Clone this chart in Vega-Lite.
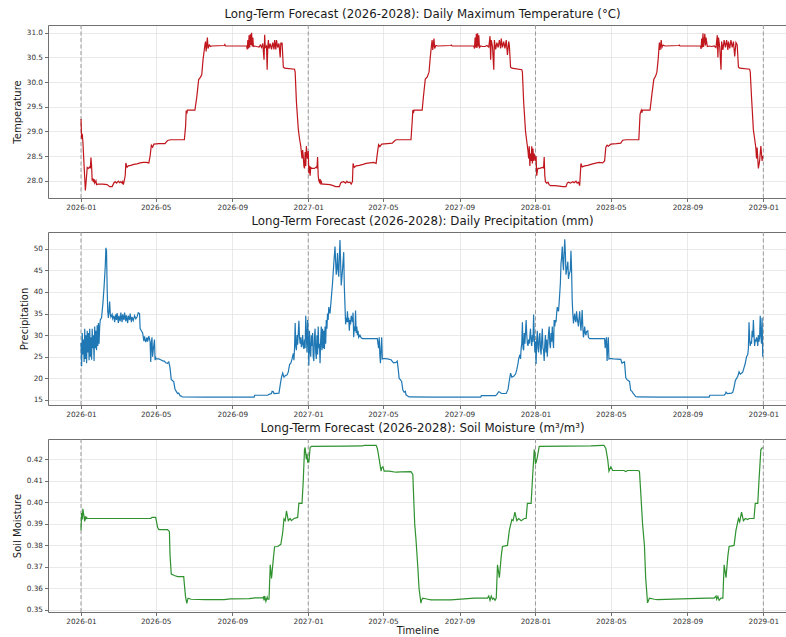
{
"$schema": "https://vega.github.io/schema/vega-lite/v6.json",
"background": "white",
"padding": {"left": 12, "top": 8, "right": 0, "bottom": 0},
"spacing": 34,
"bounds": "flush",
"config": {
  "font": "DejaVu Sans",
  "view": {"stroke": null},
  "axis": {"labelFont": "DejaVu Sans", "labelFontSize": 7.3, "labelColor": "#333333", "titleFont": "DejaVu Sans", "titleFontSize": 10, "titleFontWeight": "normal", "titleColor": "#1a1a1a", "domainColor": "#707070", "tickColor": "#707070", "tickSize": 3.5, "gridColor": "#e3e3e3", "gridWidth": 0.8, "labelPadding": 2, "titlePadding": 4},
  "title": {"font": "DejaVu Sans", "fontSize": 11.8, "fontWeight": "normal", "color": "#1a1a1a", "offset": 4, "anchor": "middle", "dx": 5}
},
"datasets": {
"years": [{"date": "2026-01-01"}, {"date": "2027-01-01"}, {"date": "2028-01-01"}, {"date": "2029-01-01"}],
"temp": [
{"date":"2026-01-01","value":29.25},{"date":"2026-01-02","value":28.85},{"date":"2026-01-03","value":28.95},{"date":"2026-01-04","value":28.8},{"date":"2026-01-06","value":28.3},{"date":"2026-01-08","value":27.8},{"date":"2026-01-10","value":28.1},{"date":"2026-01-11","value":28.27},{"date":"2026-01-13","value":28.25},{"date":"2026-01-15","value":28.28},{"date":"2026-01-16","value":28.25},{"date":"2026-01-17","value":28.47},{"date":"2026-01-18","value":28.3},{"date":"2026-01-19","value":28.0},{"date":"2026-01-20","value":28.05},{"date":"2026-01-21","value":27.97},{"date":"2026-01-22","value":28.03},{"date":"2026-01-23","value":27.95},{"date":"2026-01-25","value":28.0},{"date":"2026-01-26","value":27.92},{"date":"2026-01-28","value":27.93},{"date":"2026-02-05","value":27.93},{"date":"2026-02-12","value":27.92},{"date":"2026-02-16","value":27.88},{"date":"2026-02-20","value":27.88},{"date":"2026-02-23","value":27.96},{"date":"2026-02-25","value":27.98},{"date":"2026-02-27","value":27.95},{"date":"2026-03-02","value":27.99},{"date":"2026-03-04","value":27.96},{"date":"2026-03-06","value":27.98},{"date":"2026-03-08","value":27.95},{"date":"2026-03-09","value":27.98},{"date":"2026-03-10","value":27.92},{"date":"2026-03-11","value":27.97},{"date":"2026-03-13","value":28.1},{"date":"2026-03-14","value":28.36},{"date":"2026-03-16","value":28.27},{"date":"2026-03-18","value":28.3},{"date":"2026-03-22","value":28.31},{"date":"2026-03-27","value":28.33},{"date":"2026-04-01","value":28.34},{"date":"2026-04-06","value":28.36},{"date":"2026-04-11","value":28.37},{"date":"2026-04-16","value":28.37},{"date":"2026-04-20","value":28.36},{"date":"2026-04-22","value":28.5},{"date":"2026-04-24","value":28.72},{"date":"2026-04-26","value":28.68},{"date":"2026-04-28","value":28.74},{"date":"2026-05-06","value":28.75},{"date":"2026-05-16","value":28.75},{"date":"2026-05-19","value":28.8},{"date":"2026-05-21","value":28.82},{"date":"2026-05-26","value":28.83},{"date":"2026-06-16","value":28.83},{"date":"2026-06-18","value":29.1},{"date":"2026-06-19","value":29.42},{"date":"2026-06-20","value":29.36},{"date":"2026-06-21","value":29.43},{"date":"2026-07-03","value":29.43},{"date":"2026-07-06","value":29.7},{"date":"2026-07-09","value":30.05},{"date":"2026-07-12","value":30.1},{"date":"2026-07-14","value":30.15},{"date":"2026-07-16","value":30.45},{"date":"2026-07-19","value":30.75},{"date":"2026-07-20","value":30.82},{"date":"2026-07-21","value":30.62},{"date":"2026-07-23","value":30.9},{"date":"2026-07-24","value":30.68},{"date":"2026-07-26","value":30.75},{"date":"2026-07-28","value":30.72},{"date":"2026-07-30","value":30.73},{"date":"2026-08-19","value":30.74},{"date":"2026-08-20","value":30.76},{"date":"2026-08-21","value":30.73},{"date":"2026-09-24","value":30.73},{"date":"2026-09-25","value":30.66},{"date":"2026-09-26","value":30.85},{"date":"2026-09-27","value":30.68},{"date":"2026-09-28","value":30.95},{"date":"2026-09-29","value":30.7},{"date":"2026-09-30","value":30.97},{"date":"2026-10-01","value":30.75},{"date":"2026-10-02","value":31.0},{"date":"2026-10-03","value":30.72},{"date":"2026-10-04","value":30.9},{"date":"2026-10-05","value":30.72},{"date":"2026-10-07","value":30.73},{"date":"2026-10-10","value":30.72},{"date":"2026-10-14","value":30.71},{"date":"2026-10-16","value":30.75},{"date":"2026-10-18","value":30.7},{"date":"2026-10-20","value":30.78},{"date":"2026-10-22","value":30.45},{"date":"2026-10-23","value":30.96},{"date":"2026-10-24","value":30.7},{"date":"2026-10-26","value":30.73},{"date":"2026-10-27","value":30.25},{"date":"2026-10-28","value":30.7},{"date":"2026-10-29","value":30.85},{"date":"2026-10-30","value":30.68},{"date":"2026-11-01","value":30.78},{"date":"2026-11-03","value":30.66},{"date":"2026-11-05","value":30.8},{"date":"2026-11-07","value":30.66},{"date":"2026-11-08","value":30.85},{"date":"2026-11-10","value":30.66},{"date":"2026-11-11","value":30.85},{"date":"2026-11-13","value":30.7},{"date":"2026-11-15","value":30.78},{"date":"2026-11-17","value":30.5},{"date":"2026-11-18","value":30.8},{"date":"2026-11-19","value":30.75},{"date":"2026-11-20","value":30.8},{"date":"2026-11-22","value":30.3},{"date":"2026-11-24","value":30.28},{"date":"2026-12-10","value":30.26},{"date":"2026-12-11","value":30.2},{"date":"2026-12-13","value":29.6},{"date":"2026-12-16","value":29.05},{"date":"2026-12-18","value":28.85},{"date":"2026-12-20","value":28.7},{"date":"2026-12-22","value":28.45},{"date":"2026-12-23","value":28.62},{"date":"2026-12-24","value":28.5},{"date":"2026-12-25","value":28.3},{"date":"2026-12-26","value":28.25},{"date":"2026-12-27","value":28.58},{"date":"2026-12-28","value":28.3},{"date":"2026-12-29","value":28.7},{"date":"2026-12-30","value":28.5},{"date":"2026-12-31","value":28.45},
{"date":"2027-01-01","value":28.6},{"date":"2027-01-02","value":28.15},{"date":"2027-01-03","value":28.3},{"date":"2027-01-04","value":28.1},{"date":"2027-01-05","value":28.27},{"date":"2027-01-07","value":28.25},{"date":"2027-01-11","value":28.25},{"date":"2027-01-14","value":28.28},{"date":"2027-01-15","value":28.25},{"date":"2027-01-16","value":28.48},{"date":"2027-01-17","value":28.1},{"date":"2027-01-18","value":28.0},{"date":"2027-01-19","value":27.97},{"date":"2027-01-20","value":28.03},{"date":"2027-01-21","value":27.95},{"date":"2027-01-22","value":27.98},{"date":"2027-01-23","value":27.93},{"date":"2027-01-26","value":27.93},{"date":"2027-02-05","value":27.92},{"date":"2027-02-10","value":27.9},{"date":"2027-02-14","value":27.88},{"date":"2027-02-20","value":27.88},{"date":"2027-02-22","value":27.95},{"date":"2027-02-24","value":27.97},{"date":"2027-02-27","value":27.98},{"date":"2027-03-02","value":27.95},{"date":"2027-03-04","value":27.99},{"date":"2027-03-06","value":27.96},{"date":"2027-03-09","value":27.97},{"date":"2027-03-11","value":27.93},{"date":"2027-03-13","value":27.98},{"date":"2027-03-14","value":28.35},{"date":"2027-03-16","value":28.27},{"date":"2027-03-19","value":28.3},{"date":"2027-03-24","value":28.31},{"date":"2027-03-30","value":28.33},{"date":"2027-04-04","value":28.35},{"date":"2027-04-10","value":28.36},{"date":"2027-04-16","value":28.37},{"date":"2027-04-20","value":28.35},{"date":"2027-04-22","value":28.55},{"date":"2027-04-24","value":28.73},{"date":"2027-04-26","value":28.69},{"date":"2027-04-29","value":28.74},{"date":"2027-05-08","value":28.75},{"date":"2027-05-16","value":28.76},{"date":"2027-05-19","value":28.8},{"date":"2027-05-22","value":28.83},{"date":"2027-06-15","value":28.83},{"date":"2027-06-17","value":29.2},{"date":"2027-06-18","value":29.43},{"date":"2027-06-19","value":29.37},{"date":"2027-06-20","value":29.43},{"date":"2027-07-03","value":29.43},{"date":"2027-07-05","value":29.7},{"date":"2027-07-08","value":30.06},{"date":"2027-07-11","value":30.1},{"date":"2027-07-14","value":30.2},{"date":"2027-07-16","value":30.5},{"date":"2027-07-18","value":30.75},{"date":"2027-07-19","value":30.85},{"date":"2027-07-20","value":30.65},{"date":"2027-07-22","value":30.88},{"date":"2027-07-23","value":30.68},{"date":"2027-07-25","value":30.74},{"date":"2027-07-28","value":30.73},{"date":"2027-08-18","value":30.74},{"date":"2027-08-19","value":30.75},{"date":"2027-08-20","value":30.73},{"date":"2027-09-24","value":30.73},{"date":"2027-09-25","value":30.68},{"date":"2027-09-26","value":30.9},{"date":"2027-09-27","value":30.7},{"date":"2027-09-28","value":30.98},{"date":"2027-09-29","value":30.69},{"date":"2027-09-30","value":30.99},{"date":"2027-10-01","value":30.72},{"date":"2027-10-02","value":30.95},{"date":"2027-10-03","value":30.7},{"date":"2027-10-05","value":30.73},{"date":"2027-10-08","value":30.72},{"date":"2027-10-12","value":30.72},{"date":"2027-10-15","value":30.74},{"date":"2027-10-18","value":30.71},{"date":"2027-10-20","value":30.93},{"date":"2027-10-21","value":30.45},{"date":"2027-10-22","value":30.85},{"date":"2027-10-24","value":30.72},{"date":"2027-10-26","value":30.25},{"date":"2027-10-27","value":30.85},{"date":"2027-10-29","value":30.66},{"date":"2027-10-31","value":30.8},{"date":"2027-11-02","value":30.7},{"date":"2027-11-04","value":30.85},{"date":"2027-11-06","value":30.68},{"date":"2027-11-07","value":30.88},{"date":"2027-11-09","value":30.7},{"date":"2027-11-11","value":30.82},{"date":"2027-11-13","value":30.68},{"date":"2027-11-15","value":30.85},{"date":"2027-11-17","value":30.55},{"date":"2027-11-19","value":30.82},{"date":"2027-11-20","value":30.75},{"date":"2027-11-22","value":30.3},{"date":"2027-11-24","value":30.28},{"date":"2027-12-10","value":30.25},{"date":"2027-12-11","value":30.2},{"date":"2027-12-13","value":29.6},{"date":"2027-12-16","value":29.0},{"date":"2027-12-18","value":28.8},{"date":"2027-12-20","value":28.6},{"date":"2027-12-21","value":28.45},{"date":"2027-12-22","value":28.7},{"date":"2027-12-23","value":28.3},{"date":"2027-12-24","value":28.55},{"date":"2027-12-25","value":28.4},{"date":"2027-12-26","value":28.7},{"date":"2027-12-27","value":28.35},{"date":"2027-12-28","value":28.65},{"date":"2027-12-29","value":28.4},{"date":"2027-12-30","value":28.55},{"date":"2027-12-31","value":28.45},
{"date":"2028-01-01","value":28.4},{"date":"2028-01-02","value":28.5},{"date":"2028-01-03","value":28.1},{"date":"2028-01-04","value":28.2},{"date":"2028-01-05","value":28.25},{"date":"2028-01-08","value":28.25},{"date":"2028-01-12","value":28.27},{"date":"2028-01-14","value":28.26},{"date":"2028-01-15","value":28.48},{"date":"2028-01-16","value":28.1},{"date":"2028-01-17","value":27.98},{"date":"2028-01-19","value":27.95},{"date":"2028-01-21","value":27.97},{"date":"2028-01-23","value":27.92},{"date":"2028-01-25","value":27.9},{"date":"2028-02-01","value":27.9},{"date":"2028-02-08","value":27.89},{"date":"2028-02-14","value":27.88},{"date":"2028-02-19","value":27.88},{"date":"2028-02-21","value":27.95},{"date":"2028-02-23","value":27.97},{"date":"2028-02-26","value":27.95},{"date":"2028-03-01","value":27.98},{"date":"2028-03-03","value":27.96},{"date":"2028-03-06","value":27.99},{"date":"2028-03-08","value":27.95},{"date":"2028-03-10","value":27.97},{"date":"2028-03-12","value":27.9},{"date":"2028-03-14","value":28.35},{"date":"2028-03-16","value":28.28},{"date":"2028-03-20","value":28.3},{"date":"2028-03-25","value":28.31},{"date":"2028-03-30","value":28.33},{"date":"2028-04-05","value":28.35},{"date":"2028-04-12","value":28.37},{"date":"2028-04-18","value":28.36},{"date":"2028-04-21","value":28.4},{"date":"2028-04-23","value":28.68},{"date":"2028-04-25","value":28.72},{"date":"2028-04-27","value":28.7},{"date":"2028-05-01","value":28.74},{"date":"2028-05-10","value":28.75},{"date":"2028-05-17","value":28.76},{"date":"2028-05-20","value":28.82},{"date":"2028-05-25","value":28.83},{"date":"2028-06-15","value":28.83},{"date":"2028-06-17","value":29.35},{"date":"2028-06-19","value":29.43},{"date":"2028-06-20","value":29.38},{"date":"2028-06-21","value":29.43},{"date":"2028-07-03","value":29.43},{"date":"2028-07-06","value":29.75},{"date":"2028-07-09","value":30.05},{"date":"2028-07-12","value":30.12},{"date":"2028-07-14","value":30.2},{"date":"2028-07-16","value":30.45},{"date":"2028-07-18","value":30.8},{"date":"2028-07-19","value":30.65},{"date":"2028-07-21","value":30.85},{"date":"2028-07-22","value":30.7},{"date":"2028-07-24","value":30.75},{"date":"2028-07-27","value":30.73},{"date":"2028-08-18","value":30.74},{"date":"2028-08-19","value":30.75},{"date":"2028-08-20","value":30.73},{"date":"2028-09-22","value":30.73},{"date":"2028-09-23","value":30.67},{"date":"2028-09-24","value":30.88},{"date":"2028-09-25","value":30.7},{"date":"2028-09-26","value":30.99},{"date":"2028-09-27","value":30.71},{"date":"2028-09-29","value":30.98},{"date":"2028-09-30","value":30.74},{"date":"2028-10-01","value":30.9},{"date":"2028-10-03","value":30.72},{"date":"2028-10-06","value":30.73},{"date":"2028-10-10","value":30.72},{"date":"2028-10-14","value":30.73},{"date":"2028-10-17","value":30.7},{"date":"2028-10-19","value":30.95},{"date":"2028-10-20","value":30.5},{"date":"2028-10-21","value":30.9},{"date":"2028-10-23","value":30.7},{"date":"2028-10-25","value":30.25},{"date":"2028-10-26","value":30.82},{"date":"2028-10-28","value":30.65},{"date":"2028-10-30","value":30.85},{"date":"2028-11-01","value":30.7},{"date":"2028-11-03","value":30.85},{"date":"2028-11-05","value":30.65},{"date":"2028-11-06","value":30.82},{"date":"2028-11-08","value":30.68},{"date":"2028-11-10","value":30.85},{"date":"2028-11-12","value":30.7},{"date":"2028-11-14","value":30.82},{"date":"2028-11-16","value":30.52},{"date":"2028-11-18","value":30.8},{"date":"2028-11-20","value":30.75},{"date":"2028-11-22","value":30.3},{"date":"2028-11-24","value":30.28},{"date":"2028-12-10","value":30.26},{"date":"2028-12-11","value":30.2},{"date":"2028-12-13","value":29.7},{"date":"2028-12-16","value":29.03},{"date":"2028-12-18","value":28.85},{"date":"2028-12-20","value":28.66},{"date":"2028-12-21","value":28.45},{"date":"2028-12-22","value":28.67},{"date":"2028-12-24","value":28.25},{"date":"2028-12-26","value":28.4},{"date":"2028-12-28","value":28.7},{"date":"2028-12-30","value":28.4},{"date":"2028-12-31","value":28.5}
],
"precip": [
{"date":"2026-01-01","value":28.2},{"date":"2026-01-02","value":22.8},{"date":"2026-01-03","value":30.5},{"date":"2026-01-04","value":25.5},{"date":"2026-01-05","value":29},{"date":"2026-01-06","value":23.8},{"date":"2026-01-07","value":31.5},{"date":"2026-01-08","value":24.5},{"date":"2026-01-09","value":30},{"date":"2026-01-10","value":23.5},{"date":"2026-01-11","value":31},{"date":"2026-01-12","value":26},{"date":"2026-01-13","value":30.5},{"date":"2026-01-14","value":24.2},{"date":"2026-01-15","value":31.5},{"date":"2026-01-16","value":25},{"date":"2026-01-17","value":29.5},{"date":"2026-01-18","value":24.3},{"date":"2026-01-19","value":31.5},{"date":"2026-01-20","value":27},{"date":"2026-01-21","value":30},{"date":"2026-01-22","value":24},{"date":"2026-01-23","value":32},{"date":"2026-01-24","value":27},{"date":"2026-01-25","value":31},{"date":"2026-01-26","value":26.5},{"date":"2026-01-27","value":32.3},{"date":"2026-01-28","value":27.5},{"date":"2026-01-29","value":32.8},{"date":"2026-01-30","value":28},{"date":"2026-01-31","value":32},{"date":"2026-02-01","value":33.5},{"date":"2026-02-03","value":34},{"date":"2026-02-05","value":37},{"date":"2026-02-07","value":41},{"date":"2026-02-09","value":46},{"date":"2026-02-10","value":50.2},{"date":"2026-02-11","value":49.5},{"date":"2026-02-12","value":41},{"date":"2026-02-13","value":35.5},{"date":"2026-02-14","value":34},{"date":"2026-02-15","value":35.5},{"date":"2026-02-16","value":37.8},{"date":"2026-02-17","value":35},{"date":"2026-02-18","value":34.2},{"date":"2026-02-20","value":34.8},{"date":"2026-02-21","value":33.8},{"date":"2026-02-23","value":34.5},{"date":"2026-02-24","value":33},{"date":"2026-02-26","value":34.8},{"date":"2026-02-27","value":33.5},{"date":"2026-02-28","value":35.1},{"date":"2026-03-02","value":32.8},{"date":"2026-03-03","value":34.5},{"date":"2026-03-05","value":33.2},{"date":"2026-03-06","value":35.2},{"date":"2026-03-08","value":33},{"date":"2026-03-09","value":34.8},{"date":"2026-03-11","value":33.5},{"date":"2026-03-12","value":35.2},{"date":"2026-03-14","value":33.2},{"date":"2026-03-15","value":34.6},{"date":"2026-03-17","value":32.8},{"date":"2026-03-18","value":34.5},{"date":"2026-03-20","value":33.5},{"date":"2026-03-21","value":35},{"date":"2026-03-23","value":33},{"date":"2026-03-24","value":34.2},{"date":"2026-03-26","value":33.4},{"date":"2026-03-28","value":34.5},{"date":"2026-03-30","value":33.8},{"date":"2026-04-01","value":34.2},{"date":"2026-04-03","value":35.2},{"date":"2026-04-05","value":35},{"date":"2026-04-06","value":31.5},{"date":"2026-04-08","value":31},{"date":"2026-04-10","value":30.5},{"date":"2026-04-12","value":28.6},{"date":"2026-04-13","value":29.7},{"date":"2026-04-15","value":28.4},{"date":"2026-04-17","value":29.5},{"date":"2026-04-18","value":28.5},{"date":"2026-04-20","value":29.8},{"date":"2026-04-22","value":28.5},{"date":"2026-04-23","value":23.8},{"date":"2026-04-24","value":28},{"date":"2026-04-25","value":29.5},{"date":"2026-04-26","value":25},{"date":"2026-04-27","value":26.5},{"date":"2026-04-29","value":29},{"date":"2026-04-30","value":24.2},{"date":"2026-05-01","value":24.8},{"date":"2026-05-02","value":24.5},{"date":"2026-05-06","value":24.5},{"date":"2026-05-09","value":24.3},{"date":"2026-05-13","value":24},{"date":"2026-05-15","value":24},{"date":"2026-05-17","value":23.6},{"date":"2026-05-20","value":23.5},{"date":"2026-05-22","value":23.8},{"date":"2026-05-24","value":22.5},{"date":"2026-05-26","value":19.7},{"date":"2026-05-28","value":19.5},{"date":"2026-05-30","value":19.2},{"date":"2026-06-01","value":17.5},{"date":"2026-06-03","value":17},{"date":"2026-06-05","value":16.5},{"date":"2026-06-07","value":16.6},{"date":"2026-06-09","value":16},{"date":"2026-06-11","value":15.9},{"date":"2026-06-13","value":15.7},{"date":"2026-07-20","value":15.65},{"date":"2026-08-29","value":15.65},{"date":"2026-10-06","value":15.65},{"date":"2026-10-07","value":16.1},{"date":"2026-10-28","value":16.1},{"date":"2026-10-30","value":16.3},{"date":"2026-11-03","value":16.5},{"date":"2026-11-04","value":17},{"date":"2026-11-06","value":16.9},{"date":"2026-11-07","value":16.5},{"date":"2026-11-15","value":16.6},{"date":"2026-11-17","value":18.5},{"date":"2026-11-19","value":20.2},{"date":"2026-11-21","value":21.2},{"date":"2026-11-23","value":20.3},{"date":"2026-11-25","value":20.6},{"date":"2026-11-28","value":20.8},{"date":"2026-11-30","value":21.5},{"date":"2026-12-02","value":23.2},{"date":"2026-12-04","value":23.5},{"date":"2026-12-06","value":24.5},{"date":"2026-12-08","value":25.8},{"date":"2026-12-09","value":24.2},{"date":"2026-12-10","value":27},{"date":"2026-12-11","value":32.8},{"date":"2026-12-12","value":27.5},{"date":"2026-12-13","value":26.5},{"date":"2026-12-14","value":30},{"date":"2026-12-15","value":27.8},{"date":"2026-12-17","value":33.3},{"date":"2026-12-18","value":29.5},{"date":"2026-12-19","value":28},{"date":"2026-12-20","value":29.5},{"date":"2026-12-21","value":27.2},{"date":"2026-12-22","value":28},{"date":"2026-12-23","value":30},{"date":"2026-12-24","value":27.5},{"date":"2026-12-25","value":26.8},{"date":"2026-12-26","value":29},{"date":"2026-12-27","value":27},{"date":"2026-12-28","value":34.5},{"date":"2026-12-29","value":30},{"date":"2026-12-30","value":26},{"date":"2026-12-31","value":33.5},
{"date":"2027-01-01","value":29},{"date":"2027-01-02","value":23},{"date":"2027-01-03","value":31},{"date":"2027-01-04","value":26.5},{"date":"2027-01-05","value":25},{"date":"2027-01-06","value":30},{"date":"2027-01-07","value":27.5},{"date":"2027-01-08","value":30.5},{"date":"2027-01-09","value":25},{"date":"2027-01-10","value":24},{"date":"2027-01-11","value":29.5},{"date":"2027-01-12","value":31.5},{"date":"2027-01-13","value":26},{"date":"2027-01-14","value":24.5},{"date":"2027-01-15","value":30},{"date":"2027-01-16","value":25.5},{"date":"2027-01-17","value":32},{"date":"2027-01-18","value":27},{"date":"2027-01-19","value":28},{"date":"2027-01-20","value":23.5},{"date":"2027-01-21","value":29},{"date":"2027-01-22","value":32},{"date":"2027-01-23","value":26.5},{"date":"2027-01-24","value":31.5},{"date":"2027-01-25","value":27},{"date":"2027-01-26","value":31},{"date":"2027-01-27","value":26.8},{"date":"2027-01-28","value":32},{"date":"2027-01-29","value":28},{"date":"2027-01-30","value":33.5},{"date":"2027-01-31","value":31.5},{"date":"2027-02-01","value":35},{"date":"2027-02-02","value":33.5},{"date":"2027-02-03","value":36.5},{"date":"2027-02-05","value":35},{"date":"2027-02-07","value":38.5},{"date":"2027-02-09","value":42},{"date":"2027-02-11","value":46.5},{"date":"2027-02-13","value":50.5},{"date":"2027-02-14","value":47},{"date":"2027-02-15","value":44},{"date":"2027-02-16","value":45.5},{"date":"2027-02-17","value":49},{"date":"2027-02-18","value":45},{"date":"2027-02-19","value":43.5},{"date":"2027-02-20","value":48},{"date":"2027-02-21","value":52},{"date":"2027-02-22","value":47},{"date":"2027-02-23","value":41.5},{"date":"2027-02-25","value":45},{"date":"2027-02-27","value":49.2},{"date":"2027-02-28","value":41},{"date":"2027-03-01","value":37},{"date":"2027-03-02","value":32.5},{"date":"2027-03-03","value":34},{"date":"2027-03-04","value":33},{"date":"2027-03-05","value":35.5},{"date":"2027-03-06","value":33},{"date":"2027-03-07","value":34},{"date":"2027-03-08","value":31},{"date":"2027-03-09","value":33.5},{"date":"2027-03-10","value":32.5},{"date":"2027-03-11","value":34.5},{"date":"2027-03-13","value":33},{"date":"2027-03-14","value":35.2},{"date":"2027-03-15","value":29.5},{"date":"2027-03-16","value":32},{"date":"2027-03-17","value":31},{"date":"2027-03-18","value":35.7},{"date":"2027-03-19","value":30.5},{"date":"2027-03-20","value":32},{"date":"2027-03-21","value":30},{"date":"2027-03-22","value":31},{"date":"2027-03-23","value":29.5},{"date":"2027-03-25","value":30},{"date":"2027-03-27","value":29.4},{"date":"2027-03-29","value":29.2},{"date":"2027-04-22","value":29.2},{"date":"2027-04-23","value":28},{"date":"2027-04-24","value":27},{"date":"2027-04-25","value":29.5},{"date":"2027-04-26","value":25.5},{"date":"2027-04-27","value":23.5},{"date":"2027-04-28","value":27},{"date":"2027-04-29","value":29.5},{"date":"2027-04-30","value":24.5},{"date":"2027-05-01","value":24.6},{"date":"2027-05-08","value":24.5},{"date":"2027-05-14","value":24.3},{"date":"2027-05-18","value":23.6},{"date":"2027-05-22","value":23.7},{"date":"2027-05-24","value":24},{"date":"2027-05-26","value":21.5},{"date":"2027-05-27","value":20},{"date":"2027-05-29","value":19.7},{"date":"2027-05-31","value":19.3},{"date":"2027-06-02","value":17.3},{"date":"2027-06-04","value":16.8},{"date":"2027-06-06","value":17},{"date":"2027-06-07","value":16.2},{"date":"2027-06-09","value":16},{"date":"2027-06-12","value":15.7},{"date":"2027-07-20","value":15.65},{"date":"2027-10-05","value":15.65},{"date":"2027-10-06","value":16.0},{"date":"2027-10-29","value":16.0},{"date":"2027-10-31","value":16.3},{"date":"2027-11-03","value":16.9},{"date":"2027-11-05","value":16.8},{"date":"2027-11-07","value":16.5},{"date":"2027-11-15","value":16.5},{"date":"2027-11-18","value":17.5},{"date":"2027-11-20","value":19.5},{"date":"2027-11-22","value":21.2},{"date":"2027-11-24","value":20.3},{"date":"2027-11-27","value":20.5},{"date":"2027-11-30","value":21},{"date":"2027-12-02","value":22},{"date":"2027-12-04","value":23.5},{"date":"2027-12-05","value":24.5},{"date":"2027-12-07","value":25.5},{"date":"2027-12-08","value":24.5},{"date":"2027-12-09","value":27},{"date":"2027-12-10","value":28},{"date":"2027-12-11","value":33},{"date":"2027-12-12","value":27},{"date":"2027-12-13","value":26.5},{"date":"2027-12-14","value":30.5},{"date":"2027-12-15","value":28},{"date":"2027-12-17","value":33.5},{"date":"2027-12-18","value":30},{"date":"2027-12-19","value":28},{"date":"2027-12-20","value":27.5},{"date":"2027-12-21","value":29},{"date":"2027-12-22","value":28},{"date":"2027-12-24","value":31.5},{"date":"2027-12-25","value":28.5},{"date":"2027-12-26","value":27.5},{"date":"2027-12-27","value":30},{"date":"2027-12-28","value":28.5},{"date":"2027-12-29","value":34.8},{"date":"2027-12-30","value":30},{"date":"2027-12-31","value":26},
{"date":"2028-01-01","value":28.5},{"date":"2028-01-02","value":23.3},{"date":"2028-01-03","value":29},{"date":"2028-01-04","value":31},{"date":"2028-01-05","value":27},{"date":"2028-01-06","value":26},{"date":"2028-01-07","value":29.5},{"date":"2028-01-08","value":30.5},{"date":"2028-01-09","value":27},{"date":"2028-01-10","value":25.5},{"date":"2028-01-11","value":29},{"date":"2028-01-12","value":31.5},{"date":"2028-01-13","value":27},{"date":"2028-01-14","value":26.5},{"date":"2028-01-15","value":24},{"date":"2028-01-16","value":28},{"date":"2028-01-17","value":30},{"date":"2028-01-18","value":26},{"date":"2028-01-19","value":29},{"date":"2028-01-20","value":25},{"date":"2028-01-21","value":28},{"date":"2028-01-22","value":30.5},{"date":"2028-01-23","value":32},{"date":"2028-01-24","value":28},{"date":"2028-01-25","value":27},{"date":"2028-01-26","value":30.5},{"date":"2028-01-27","value":28.5},{"date":"2028-01-28","value":32},{"date":"2028-01-29","value":29},{"date":"2028-01-30","value":27},{"date":"2028-01-31","value":33.5},{"date":"2028-02-01","value":32},{"date":"2028-02-02","value":33.5},{"date":"2028-02-03","value":33},{"date":"2028-02-04","value":35},{"date":"2028-02-05","value":36.5},{"date":"2028-02-07","value":35.5},{"date":"2028-02-08","value":37.5},{"date":"2028-02-10","value":42},{"date":"2028-02-11","value":46.6},{"date":"2028-02-12","value":48},{"date":"2028-02-13","value":50.5},{"date":"2028-02-14","value":47},{"date":"2028-02-15","value":45},{"date":"2028-02-16","value":49},{"date":"2028-02-17","value":52.2},{"date":"2028-02-18","value":49},{"date":"2028-02-19","value":44},{"date":"2028-02-20","value":45},{"date":"2028-02-21","value":46},{"date":"2028-02-22","value":47},{"date":"2028-02-23","value":43},{"date":"2028-02-24","value":44},{"date":"2028-02-26","value":45},{"date":"2028-02-27","value":49.5},{"date":"2028-02-28","value":45},{"date":"2028-02-29","value":38},{"date":"2028-03-01","value":35},{"date":"2028-03-02","value":32.7},{"date":"2028-03-03","value":34},{"date":"2028-03-04","value":35},{"date":"2028-03-05","value":33.5},{"date":"2028-03-06","value":33},{"date":"2028-03-07","value":35.5},{"date":"2028-03-08","value":34},{"date":"2028-03-09","value":33},{"date":"2028-03-10","value":32},{"date":"2028-03-11","value":34},{"date":"2028-03-12","value":35.5},{"date":"2028-03-13","value":33},{"date":"2028-03-14","value":31},{"date":"2028-03-15","value":33},{"date":"2028-03-16","value":35.8},{"date":"2028-03-17","value":32},{"date":"2028-03-18","value":29.5},{"date":"2028-03-19","value":30.5},{"date":"2028-03-20","value":32},{"date":"2028-03-21","value":30.5},{"date":"2028-03-22","value":30},{"date":"2028-03-23","value":30.8},{"date":"2028-03-25","value":31},{"date":"2028-03-26","value":29.5},{"date":"2028-03-28","value":29.2},{"date":"2028-04-21","value":29.2},{"date":"2028-04-22","value":27},{"date":"2028-04-23","value":28.5},{"date":"2028-04-24","value":29.5},{"date":"2028-04-25","value":24},{"date":"2028-04-26","value":27},{"date":"2028-04-27","value":29.5},{"date":"2028-04-28","value":24.5},{"date":"2028-04-29","value":24.6},{"date":"2028-05-05","value":24.5},{"date":"2028-05-17","value":24.4},{"date":"2028-05-19","value":23.5},{"date":"2028-05-21","value":23.7},{"date":"2028-05-23","value":23.8},{"date":"2028-05-25","value":20.2},{"date":"2028-05-27","value":19.7},{"date":"2028-05-29","value":19.5},{"date":"2028-05-31","value":19.3},{"date":"2028-06-02","value":17.2},{"date":"2028-06-04","value":17},{"date":"2028-06-06","value":16.5},{"date":"2028-06-08","value":16.2},{"date":"2028-06-10","value":15.8},{"date":"2028-06-12","value":15.7},{"date":"2028-07-19","value":15.65},{"date":"2028-10-06","value":15.65},{"date":"2028-10-07","value":16.1},{"date":"2028-10-30","value":16.1},{"date":"2028-11-01","value":16.4},{"date":"2028-11-02","value":16.8},{"date":"2028-11-04","value":16.5},{"date":"2028-11-11","value":16.6},{"date":"2028-11-13","value":16.8},{"date":"2028-11-15","value":18},{"date":"2028-11-17","value":19.5},{"date":"2028-11-19","value":20},{"date":"2028-11-21","value":20.5},{"date":"2028-11-23","value":21.5},{"date":"2028-11-25","value":21},{"date":"2028-11-27","value":21.2},{"date":"2028-11-29","value":21.5},{"date":"2028-12-01","value":22.5},{"date":"2028-12-03","value":23.5},{"date":"2028-12-05","value":25},{"date":"2028-12-07","value":25.5},{"date":"2028-12-08","value":27},{"date":"2028-12-09","value":33},{"date":"2028-12-10","value":29},{"date":"2028-12-11","value":27.5},{"date":"2028-12-12","value":28.5},{"date":"2028-12-13","value":28},{"date":"2028-12-14","value":31},{"date":"2028-12-15","value":29.5},{"date":"2028-12-16","value":33.5},{"date":"2028-12-17","value":30},{"date":"2028-12-18","value":27.5},{"date":"2028-12-19","value":29},{"date":"2028-12-20","value":28.5},{"date":"2028-12-21","value":29.5},{"date":"2028-12-22","value":29},{"date":"2028-12-23","value":27.5},{"date":"2028-12-24","value":30},{"date":"2028-12-25","value":28.5},{"date":"2028-12-26","value":29.5},{"date":"2028-12-27","value":34.5},{"date":"2028-12-28","value":30},{"date":"2028-12-29","value":28},{"date":"2028-12-30","value":34},{"date":"2028-12-31","value":25}
],
"soil": [
{"date":"2026-01-01","value":0.387},{"date":"2026-01-02","value":0.395},{"date":"2026-01-03","value":0.392},{"date":"2026-01-04","value":0.397},{"date":"2026-01-06","value":0.393},{"date":"2026-01-07","value":0.3912},{"date":"2026-01-08","value":0.3935},{"date":"2026-01-09","value":0.3925},{"date":"2026-01-10","value":0.393},{"date":"2026-01-11","value":0.3925},{"date":"2026-04-23","value":0.3925},{"date":"2026-04-25","value":0.393},{"date":"2026-05-01","value":0.393},{"date":"2026-05-04","value":0.3884},{"date":"2026-05-06","value":0.3873},{"date":"2026-05-20","value":0.3873},{"date":"2026-05-23","value":0.3865},{"date":"2026-05-24","value":0.3755},{"date":"2026-05-26","value":0.3667},{"date":"2026-05-31","value":0.366},{"date":"2026-06-05","value":0.3655},{"date":"2026-06-15","value":0.3655},{"date":"2026-06-16","value":0.362},{"date":"2026-06-18","value":0.356},{"date":"2026-06-20","value":0.3531},{"date":"2026-06-21","value":0.3545},{"date":"2026-06-22","value":0.3555},{"date":"2026-06-27","value":0.355},{"date":"2026-07-20","value":0.3548},{"date":"2026-08-19","value":0.3548},{"date":"2026-08-29","value":0.3552},{"date":"2026-09-28","value":0.3553},{"date":"2026-10-08","value":0.3556},{"date":"2026-10-20","value":0.3557},{"date":"2026-10-21","value":0.356},{"date":"2026-10-22","value":0.3545},{"date":"2026-10-23","value":0.3565},{"date":"2026-10-25","value":0.354},{"date":"2026-10-27","value":0.356},{"date":"2026-10-28","value":0.355},{"date":"2026-10-30","value":0.355},{"date":"2026-11-01","value":0.371},{"date":"2026-11-03","value":0.3647},{"date":"2026-11-06","value":0.374},{"date":"2026-11-08","value":0.3794},{"date":"2026-11-13","value":0.3795},{"date":"2026-11-18","value":0.3805},{"date":"2026-11-21","value":0.386},{"date":"2026-11-23","value":0.3923},{"date":"2026-11-25","value":0.3915},{"date":"2026-11-27","value":0.396},{"date":"2026-11-30","value":0.3915},{"date":"2026-12-03","value":0.3925},{"date":"2026-12-05","value":0.3915},{"date":"2026-12-09","value":0.3925},{"date":"2026-12-15","value":0.393},{"date":"2026-12-17","value":0.3996},{"date":"2026-12-22","value":0.3995},{"date":"2026-12-24","value":0.41},{"date":"2026-12-26","value":0.4245},{"date":"2026-12-27","value":0.4255},{"date":"2026-12-29","value":0.42},{"date":"2026-12-30","value":0.4225},{"date":"2026-12-31","value":0.419},
{"date":"2027-01-01","value":0.4195},{"date":"2027-01-02","value":0.4185},{"date":"2027-01-04","value":0.4255},{"date":"2027-01-06","value":0.426},{"date":"2027-03-02","value":0.4261},{"date":"2027-03-29","value":0.4262},{"date":"2027-04-01","value":0.4265},{"date":"2027-04-20","value":0.4265},{"date":"2027-04-22","value":0.425},{"date":"2027-04-23","value":0.4235},{"date":"2027-04-25","value":0.42},{"date":"2027-04-28","value":0.4145},{"date":"2027-04-29","value":0.416},{"date":"2027-05-01","value":0.4165},{"date":"2027-05-03","value":0.4145},{"date":"2027-05-11","value":0.4145},{"date":"2027-05-22","value":0.414},{"date":"2027-05-31","value":0.4142},{"date":"2027-06-15","value":0.4143},{"date":"2027-06-18","value":0.413},{"date":"2027-06-19","value":0.405},{"date":"2027-06-21","value":0.39},{"date":"2027-06-23","value":0.383},{"date":"2027-06-26","value":0.37},{"date":"2027-06-28","value":0.36},{"date":"2027-07-01","value":0.3532},{"date":"2027-07-02","value":0.3545},{"date":"2027-07-04","value":0.3555},{"date":"2027-07-12","value":0.355},{"date":"2027-07-17","value":0.3547},{"date":"2027-08-18","value":0.3547},{"date":"2027-09-25","value":0.3555},{"date":"2027-10-16","value":0.3555},{"date":"2027-10-18","value":0.3565},{"date":"2027-10-20","value":0.3545},{"date":"2027-10-22","value":0.3565},{"date":"2027-10-24","value":0.355},{"date":"2027-10-26","value":0.3555},{"date":"2027-10-28","value":0.3545},{"date":"2027-10-30","value":0.3555},{"date":"2027-11-01","value":0.371},{"date":"2027-11-04","value":0.365},{"date":"2027-11-07","value":0.375},{"date":"2027-11-09","value":0.3795},{"date":"2027-11-17","value":0.38},{"date":"2027-11-20","value":0.387},{"date":"2027-11-24","value":0.392},{"date":"2027-11-26","value":0.3915},{"date":"2027-11-29","value":0.3955},{"date":"2027-12-02","value":0.3915},{"date":"2027-12-05","value":0.3925},{"date":"2027-12-09","value":0.3915},{"date":"2027-12-14","value":0.3925},{"date":"2027-12-17","value":0.3925},{"date":"2027-12-19","value":0.3995},{"date":"2027-12-25","value":0.3995},{"date":"2027-12-27","value":0.41},{"date":"2027-12-30","value":0.4245},{"date":"2027-12-31","value":0.4225},
{"date":"2028-01-01","value":0.4181},{"date":"2028-01-02","value":0.4185},{"date":"2028-01-04","value":0.421},{"date":"2028-01-07","value":0.426},{"date":"2028-03-30","value":0.4262},{"date":"2028-04-18","value":0.4265},{"date":"2028-04-20","value":0.4265},{"date":"2028-04-23","value":0.425},{"date":"2028-04-26","value":0.42},{"date":"2028-04-28","value":0.4145},{"date":"2028-05-01","value":0.4165},{"date":"2028-05-04","value":0.4148},{"date":"2028-05-22","value":0.4148},{"date":"2028-05-25","value":0.4143},{"date":"2028-05-28","value":0.4148},{"date":"2028-06-13","value":0.4148},{"date":"2028-06-16","value":0.4145},{"date":"2028-06-18","value":0.405},{"date":"2028-06-21","value":0.39},{"date":"2028-06-24","value":0.38},{"date":"2028-06-26","value":0.365},{"date":"2028-06-29","value":0.3533},{"date":"2028-07-02","value":0.3555},{"date":"2028-07-10","value":0.355},{"date":"2028-07-15","value":0.3548},{"date":"2028-08-22","value":0.3552},{"date":"2028-10-03","value":0.3555},{"date":"2028-10-14","value":0.3555},{"date":"2028-10-17","value":0.3565},{"date":"2028-10-18","value":0.355},{"date":"2028-10-20","value":0.3563},{"date":"2028-10-22","value":0.3545},{"date":"2028-10-25","value":0.3555},{"date":"2028-10-28","value":0.3555},{"date":"2028-10-30","value":0.371},{"date":"2028-11-02","value":0.365},{"date":"2028-11-05","value":0.375},{"date":"2028-11-07","value":0.3795},{"date":"2028-11-15","value":0.38},{"date":"2028-11-18","value":0.387},{"date":"2028-11-22","value":0.3925},{"date":"2028-11-24","value":0.391},{"date":"2028-11-27","value":0.3955},{"date":"2028-11-30","value":0.3915},{"date":"2028-12-03","value":0.3925},{"date":"2028-12-07","value":0.392},{"date":"2028-12-09","value":0.3925},{"date":"2028-12-17","value":0.3925},{"date":"2028-12-19","value":0.3995},{"date":"2028-12-23","value":0.3995},{"date":"2028-12-25","value":0.41},{"date":"2028-12-28","value":0.4245},{"date":"2028-12-31","value":0.4255}
]
},
"vconcat": [
{
  "width": 739, "height": 173,
  "title": {"text": "Long-Term Forecast (2026-2028): Daily Maximum Temperature (°C)"},
  "layer": [
    {"data": {"name": "years"}, "mark": {"type": "rule", "color": "#9a9a9a", "strokeDash": [4, 2.5], "strokeWidth": 1},
     "encoding": {"x": {"field": "date", "type": "temporal", "scale": {"type": "utc", "nice": false, "domain": [{"year": 2025, "month": 11, "date": 9, "utc": true}, {"year": 2029, "month": 2, "date": 8, "utc": true}]}, "axis": {"orient": "top", "labels": false, "ticks": false, "grid": false, "title": null, "domain": true}}}},
    {"data": {"name": "temp"}, "mark": {"type": "line", "color": "#c0161d", "strokeWidth": 1.2},
     "encoding": {
       "x": {"field": "date", "type": "temporal", "scale": {"type": "utc", "nice": false, "domain": [{"year": 2025, "month": 11, "date": 9, "utc": true}, {"year": 2029, "month": 2, "date": 8, "utc": true}]}, "axis": {"orient": "bottom", "title": null, "grid": true, "format": "%Y-%m", "labelAngle": 0, "values": [{"year": 2026, "month": 1, "date": 1, "utc": true}, {"year": 2026, "month": 5, "date": 1, "utc": true}, {"year": 2026, "month": 9, "date": 1, "utc": true}, {"year": 2027, "month": 1, "date": 1, "utc": true}, {"year": 2027, "month": 5, "date": 1, "utc": true}, {"year": 2027, "month": 9, "date": 1, "utc": true}, {"year": 2028, "month": 1, "date": 1, "utc": true}, {"year": 2028, "month": 5, "date": 1, "utc": true}, {"year": 2028, "month": 9, "date": 1, "utc": true}, {"year": 2029, "month": 1, "date": 1, "utc": true}]}},
       "y": {"field": "value", "type": "quantitative", "scale": {"domain": [27.649, 31.156], "nice": false, "zero": false}, "axis": {"title": "Temperature", "grid": true, "values": [28, 28.5, 29, 29.5, 30, 30.5, 31], "format": ".1f"}}
     }}
  ],
  "resolve": {"axis": {"x": "independent"}}
},
{
  "width": 739, "height": 173,
  "title": {"text": "Long-Term Forecast (2026-2028): Daily Precipitation (mm)"},
  "layer": [
    {"data": {"name": "years"}, "mark": {"type": "rule", "color": "#9a9a9a", "strokeDash": [4, 2.5], "strokeWidth": 1},
     "encoding": {"x": {"field": "date", "type": "temporal", "scale": {"type": "utc", "nice": false, "domain": [{"year": 2025, "month": 11, "date": 9, "utc": true}, {"year": 2029, "month": 2, "date": 8, "utc": true}]}, "axis": {"orient": "top", "labels": false, "ticks": false, "grid": false, "title": null, "domain": true}}}},
    {"data": {"name": "precip"}, "mark": {"type": "line", "color": "#1f77b4", "strokeWidth": 1.2},
     "encoding": {
       "x": {"field": "date", "type": "temporal", "scale": {"type": "utc", "nice": false, "domain": [{"year": 2025, "month": 11, "date": 9, "utc": true}, {"year": 2029, "month": 2, "date": 8, "utc": true}]}, "axis": {"orient": "bottom", "title": null, "grid": true, "format": "%Y-%m", "labelAngle": 0, "values": [{"year": 2026, "month": 1, "date": 1, "utc": true}, {"year": 2026, "month": 5, "date": 1, "utc": true}, {"year": 2026, "month": 9, "date": 1, "utc": true}, {"year": 2027, "month": 1, "date": 1, "utc": true}, {"year": 2027, "month": 5, "date": 1, "utc": true}, {"year": 2027, "month": 9, "date": 1, "utc": true}, {"year": 2028, "month": 1, "date": 1, "utc": true}, {"year": 2028, "month": 5, "date": 1, "utc": true}, {"year": 2028, "month": 9, "date": 1, "utc": true}, {"year": 2029, "month": 1, "date": 1, "utc": true}]}},
       "y": {"field": "value", "type": "quantitative", "scale": {"domain": [13.84, 53.86], "nice": false, "zero": false}, "axis": {"title": "Precipitation", "grid": true, "values": [15, 20, 25, 30, 35, 40, 45, 50], "format": "d"}}
     }}
  ],
  "resolve": {"axis": {"x": "independent"}}
},
{
  "width": 739, "height": 173,
  "title": {"text": "Long-Term Forecast (2026-2028): Soil Moisture (m³/m³)"},
  "layer": [
    {"data": {"name": "years"}, "mark": {"type": "rule", "color": "#9a9a9a", "strokeDash": [4, 2.5], "strokeWidth": 1},
     "encoding": {"x": {"field": "date", "type": "temporal", "scale": {"type": "utc", "nice": false, "domain": [{"year": 2025, "month": 11, "date": 9, "utc": true}, {"year": 2029, "month": 2, "date": 8, "utc": true}]}, "axis": {"orient": "top", "labels": false, "ticks": false, "grid": false, "title": null, "domain": true}}}},
    {"data": {"name": "soil"}, "mark": {"type": "line", "color": "#2f922f", "strokeWidth": 1.2},
     "encoding": {
       "x": {"field": "date", "type": "temporal", "scale": {"type": "utc", "nice": false, "domain": [{"year": 2025, "month": 11, "date": 9, "utc": true}, {"year": 2029, "month": 2, "date": 8, "utc": true}]}, "axis": {"orient": "bottom", "title": "Timeline", "titlePadding": 1, "grid": true, "format": "%Y-%m", "labelAngle": 0, "values": [{"year": 2026, "month": 1, "date": 1, "utc": true}, {"year": 2026, "month": 5, "date": 1, "utc": true}, {"year": 2026, "month": 9, "date": 1, "utc": true}, {"year": 2027, "month": 1, "date": 1, "utc": true}, {"year": 2027, "month": 5, "date": 1, "utc": true}, {"year": 2027, "month": 9, "date": 1, "utc": true}, {"year": 2028, "month": 1, "date": 1, "utc": true}, {"year": 2028, "month": 5, "date": 1, "utc": true}, {"year": 2028, "month": 9, "date": 1, "utc": true}, {"year": 2029, "month": 1, "date": 1, "utc": true}]}},
       "y": {"field": "value", "type": "quantitative", "scale": {"domain": [0.34907, 0.42943], "nice": false, "zero": false}, "axis": {"title": "Soil Moisture", "grid": true, "values": [0.35, 0.36, 0.37, 0.38, 0.39, 0.40, 0.41, 0.42], "format": ".2f"}}
     }}
  ],
  "resolve": {"axis": {"x": "independent"}}
}
]
}
